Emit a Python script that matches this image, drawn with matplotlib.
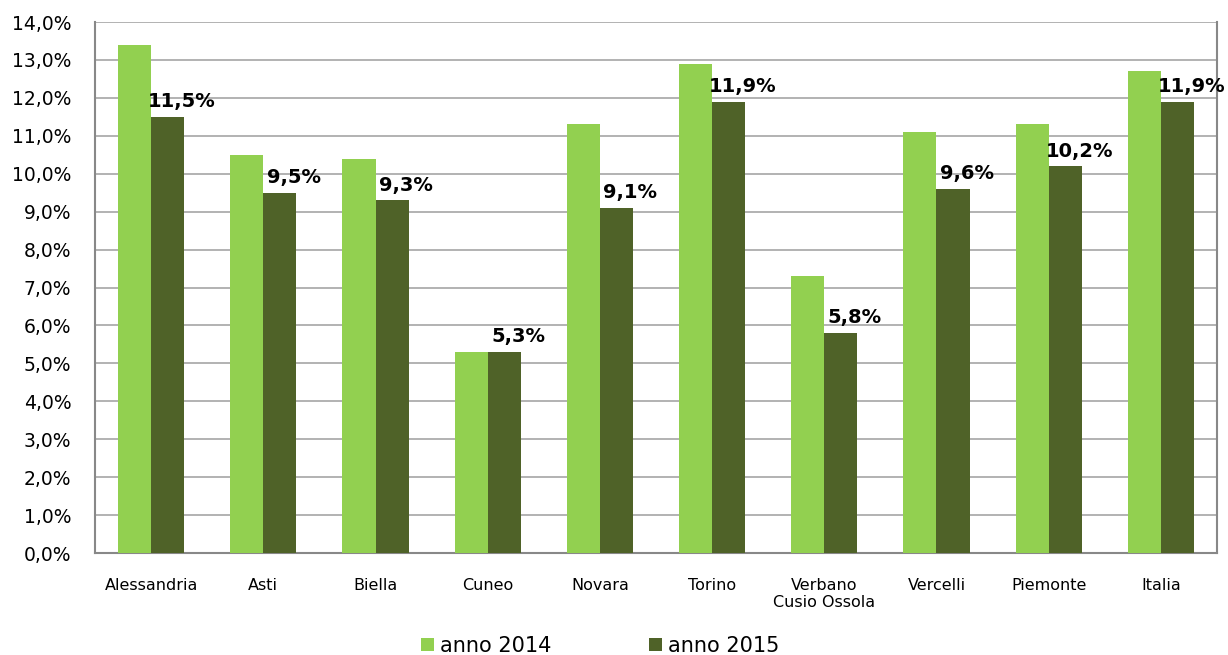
import numpy as np
import matplotlib.pyplot as plt
from matplotlib.ticker import FuncFormatter

categories = ['Alessandria', 'Asti', 'Biella', 'Cuneo', 'Novara', 'Torino',
              'Verbano\nCusio Ossola', 'Vercelli', 'Piemonte', 'Italia']
anno_2014 = [13.4, 10.5, 10.4, 5.3, 11.3, 12.9, 7.3, 11.1, 11.3, 12.7]
anno_2015 = [11.5, 9.5, 9.3, 5.3, 9.1, 11.9, 5.8, 9.6, 10.2, 11.9]

plt.rcParams['font.family'] = ['DejaVu Sans']

fig = plt.figure(figsize=(12.28, 6.55), dpi=100)
ax = fig.add_axes([0.0774, 0.1557, 0.9136, 0.8107])

x = np.arange(len(categories))
w = 0.295
ax.bar(x - w / 2, anno_2014, w, color='#92D050', label='anno 2014', zorder=3)
ax.bar(x + w / 2, anno_2015, w, color='#4F6228', label='anno 2015', zorder=3)

for xi, v in zip(x, anno_2015):
    ax.annotate(f'{v:.1f}%'.replace('.', ','), (xi + w / 2, v),
                xytext=(10, 4), textcoords='offset points',
                ha='center', va='bottom', fontsize=14, fontweight='bold', zorder=4)

ax.set_xlim(-0.5, len(categories) - 0.5)
ax.set_ylim(0, 14)
ax.set_yticks(np.arange(0, 15, 1))
ax.yaxis.set_major_formatter(FuncFormatter(lambda v, p: f'{v:.1f}%'.replace('.', ',')))
ax.set_xticks(x)
ax.set_xticklabels(categories, fontsize=11.5)
ax.tick_params(axis='y', labelsize=13.5, length=0, pad=17)
ax.tick_params(axis='x', length=0, pad=18)
ax.grid(axis='y', color='#a6a6a6', linewidth=1.2, zorder=0)
for s in ['left', 'bottom', 'right']:
    ax.spines[s].set_color('#888888')
    ax.spines[s].set_linewidth(1.5)
ax.spines['top'].set_visible(False)

fig.legend(loc='lower center', bbox_to_anchor=(0.489, -0.03), ncol=2, frameon=False,
           fontsize=15, handlelength=0.6, handleheight=0.6, handletextpad=0.3,
           columnspacing=4.7)

fig.savefig('out.png', dpi=100)
